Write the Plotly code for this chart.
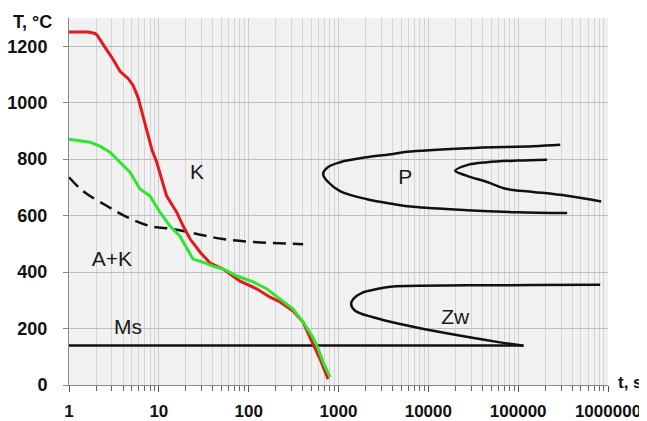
import numpy as np
import plotly.graph_objects as go

# ---- data (time in s, temperature in °C) ----
red_t = [1, 1.63, 1.95, 2.05, 2.52, 3.09, 3.70, 4.54, 5.16, 5.87, 6.50, 7.39, 8.40, 9.48,
         12.2, 15.8, 18.6, 22.3, 28.7, 37.2, 51.9, 80.2, 124, 173, 224, 312, 403, 521, 624, 766]
red_T = [1250, 1250, 1245, 1240, 1196, 1154, 1111, 1086, 1062, 1019, 966, 903, 832, 789,
         670, 612, 564, 517, 471, 432, 411, 368, 340, 311, 294, 262, 223, 145, 92, 21]

green_t = [1, 1.71, 2.21, 2.86, 3.70, 4.77, 6.17, 7.98, 10.3, 13.3, 17.2, 20.6, 24.0, 31.0,
           40.1, 51.9, 74.3, 112, 160, 224, 312, 403, 508, 578, 674, 806]
green_T = [871, 860, 846, 825, 789, 754, 694, 669, 612, 563, 527, 481, 446, 435,
           421, 411, 386, 365, 340, 304, 269, 223, 174, 138, 81, 28]

dash_t = [1, 1.43, 2.65, 4.42, 7.98, 14.6, 26.6, 51.9, 123, 404]
dash_T = [736, 687, 634, 595, 563, 552, 535, 517, 506, 499]

p_outer_t = [294000, 147000, 27000, 5800, 4060, 2080, 1040, 766, 674, 766, 1040, 2080, 4060,
             6770, 27000, 97500, 351000]
p_outer_T = [851, 846, 839, 826, 818, 807, 789, 772, 747, 719, 687, 658, 641,
             631, 619, 612, 609]

p_inner_t = [210000, 97500, 45100, 27000, 19900, 27000, 45100, 75400, 147000, 351000, 840000]
p_inner_T = [798, 795, 789, 779, 759, 741, 719, 694, 684, 670, 650]

zw_t = [818000, 147000, 27000, 4060, 2690, 1880, 1455, 1380, 1530, 2430, 4850, 11300, 63000, 114000]
zw_T = [355, 354, 353, 349, 340, 328, 304, 287, 263, 240, 216, 192, 151, 139]

ms_t = [1, 115000]
ms_T = [140, 140]

label_text = ["K", "P", "A+K", "Ms", "Zw"]
label_t = [26.6, 5520, 3.01, 4.54, 19900]
label_T = [747, 729, 439, 198, 234]

x_tickvals = [1, 10, 100, 1000, 10000, 100000, 1000000]
x_ticktext = ["1", "10", "100", "1000", "10000", "100000", "1000000"]
y_tickvals = [0, 200, 400, 600, 800, 1000, 1200]

minor_vals = [m * 10 ** e for e in range(6) for m in range(2, 10)]

fig = go.Figure()
black = "#111111"
fig.add_trace(go.Scatter(x=ms_t, y=ms_T, mode="lines", line=dict(color=black, width=2.5)))
fig.add_trace(go.Scatter(x=dash_t, y=dash_T, mode="lines", line=dict(color=black, width=2.5, dash="13px,7px", shape="spline")))
fig.add_trace(go.Scatter(x=p_outer_t, y=p_outer_T, mode="lines", line=dict(color=black, width=2.5, shape="spline")))
fig.add_trace(go.Scatter(x=p_inner_t, y=p_inner_T, mode="lines", line=dict(color=black, width=2.5, shape="spline")))
fig.add_trace(go.Scatter(x=zw_t, y=zw_T, mode="lines", line=dict(color=black, width=2.5, shape="spline")))
fig.add_trace(go.Scatter(x=red_t, y=red_T, mode="lines", line=dict(color="#e31a1c", width=3)))
fig.add_trace(go.Scatter(x=green_t, y=green_T, mode="lines", line=dict(color="#2ee62e", width=3)))
fig.add_trace(go.Scatter(x=label_t, y=label_T, mode="text", text=label_text,
                         textfont=dict(family="Liberation Sans", size=21, color="#1a1a1a")))

# page body adds an 8px offset, so the figure is 8px smaller than the window
fig.update_layout(
    width=639, height=413,
    margin=dict(l=61, r=39, t=10, b=36),
    paper_bgcolor="white", plot_bgcolor="#f1f1f1",
    showlegend=False,
    font=dict(family="Liberation Sans", color="#111111"),
)
fig.update_xaxes(
    type="log", range=[0, 6], automargin=False,
    tickmode="array", tickvals=x_tickvals, ticktext=x_ticktext,
    tickfont=dict(family="Liberation Sans", size=17, color="#111111", weight="bold"),
    ticks="outside", ticklen=6, tickcolor="#555555", ticklabelstandoff=5,
    showline=True, linecolor="#888888", linewidth=1,
    showgrid=True, gridcolor="#cccccc", gridwidth=1,
    minor=dict(tickmode="array", tickvals=minor_vals, ticks="outside", ticklen=5,
               tickcolor="#666666", showgrid=True, gridcolor="#d3d3d3", gridwidth=1),
    zeroline=False,
)
fig.update_yaxes(
    range=[0, 1300], automargin=False,
    tickmode="array", tickvals=y_tickvals,
    tickfont=dict(family="Liberation Sans", size=18, color="#111111", weight="bold"),
    ticks="outside", ticklen=5, tickcolor="#888888", ticklabelstandoff=12,
    showline=True, linecolor="#888888", linewidth=1,
    showgrid=True, gridcolor="#bdbdbd", gridwidth=1,
    zeroline=False,
)
fig.add_annotation(text="T, °C", xref="paper", yref="paper", x=-0.0297, y=0.989,
                   xanchor="right", yanchor="middle", showarrow=False, borderpad=0,
                   font=dict(family="Liberation Sans", size=18, color="#111111", weight="bold"))
fig.add_annotation(text="t, s", xref="paper", yref="paper", x=1.0, y=0.008,
                   xanchor="left", yanchor="middle", showarrow=False, xshift=9, borderpad=0,
                   font=dict(family="Liberation Sans", size=17, color="#111111", weight="bold"))

fig.write_html("out.html")
